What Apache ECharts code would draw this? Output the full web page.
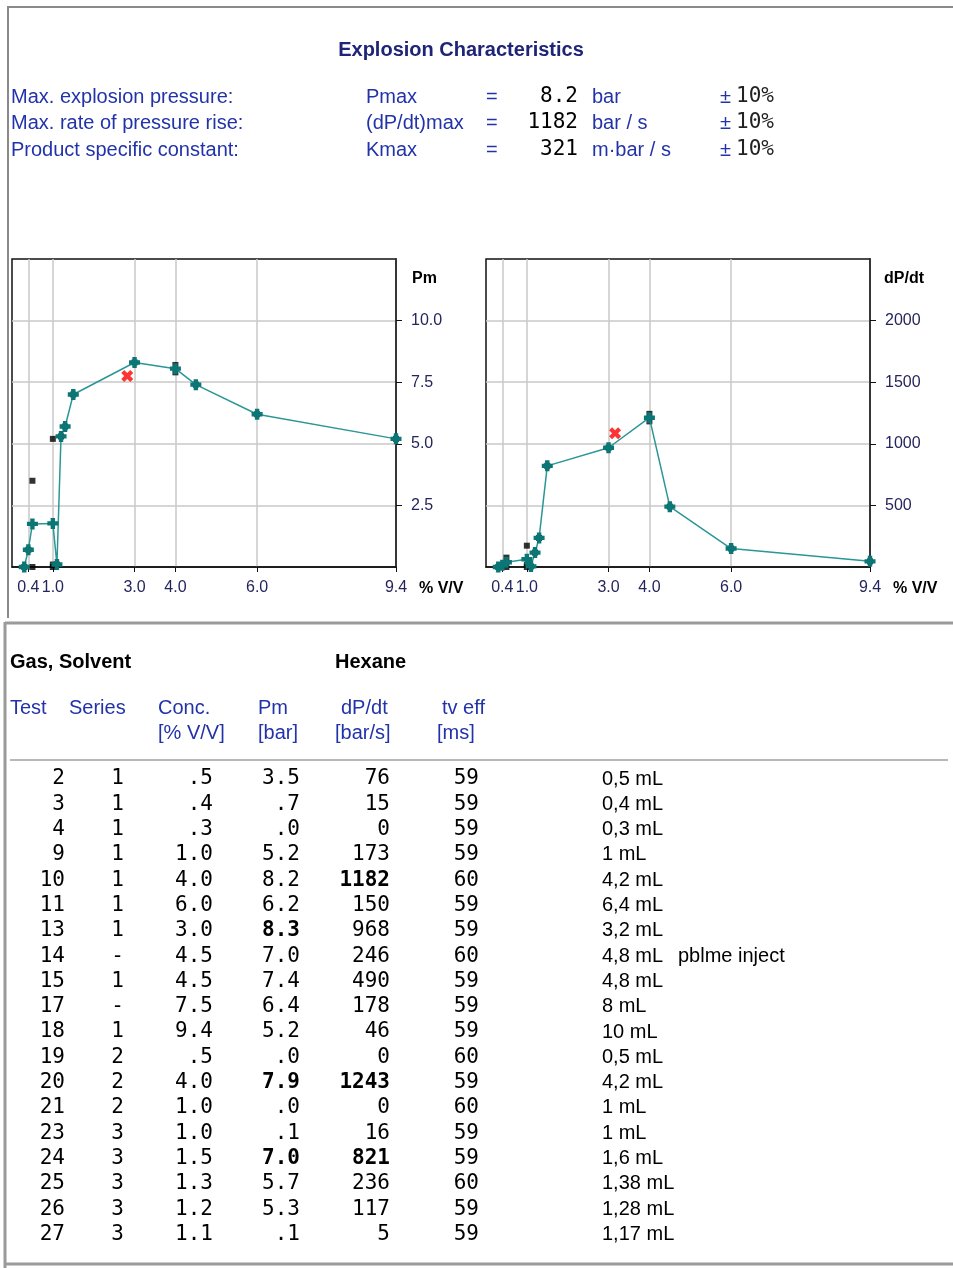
<!DOCTYPE html>
<html>
<head>
<meta charset="utf-8">
<title>Explosion Characteristics</title>
<script src="https://cdn.jsdelivr.net/npm/echarts@6/dist/echarts.min.js"></script>
<style>
	html, body { margin: 0; padding: 0; background: #fff; }
	#chart { width: 953px; height: 1268px; }
</style>
</head>
<body>
<div id="chart"></div>
<script>
// test table
const tests = [2, 3, 4, 9, 10, 11, 13, 14, 15, 17, 18, 19, 20, 21, 23, 24, 25, 26, 27];
const seriesNo = ["1", "1", "1", "1", "1", "1", "1", "-", "1", "-", "1", "2", "2", "2", "3", "3", "3", "3", "3"];
const conc = [0.5, 0.4, 0.3, 1.0, 4.0, 6.0, 3.0, 4.5, 4.5, 7.5, 9.4, 0.5, 4.0, 1.0, 1.0, 1.5, 1.3, 1.2, 1.1];
const pm = [3.5, 0.7, 0.0, 5.2, 8.2, 6.2, 8.3, 7.0, 7.4, 6.4, 5.2, 0.0, 7.9, 0.0, 0.1, 7.0, 5.7, 5.3, 0.1];
const dpdt = [76, 15, 0, 173, 1182, 150, 968, 246, 490, 178, 46, 0, 1243, 0, 16, 821, 236, 117, 5];
const tvEff = [59, 59, 59, 59, 60, 59, 59, 60, 59, 59, 59, 60, 59, 60, 59, 59, 60, 59, 59];
const volume = ["0,5 mL", "0,4 mL", "0,3 mL", "1 mL", "4,2 mL", "6,4 mL", "3,2 mL", "4,8 mL", "4,8 mL", "8 mL",
	"10 mL", "0,5 mL", "4,2 mL", "1 mL", "1 mL", "1,6 mL", "1,38 mL", "1,28 mL", "1,17 mL"];
const remark = ["", "", "", "", "", "", "", "pblme inject", "", "", "", "", "", "", "", "", "", "", ""];
const boldPm = [13, 20, 24];
const boldDp = [10, 20, 24];

// mean curve per concentration (teal crosses)
const meanConc = [0.3, 0.4, 0.5, 1.0, 1.1, 1.2, 1.3, 1.5, 3.0, 4.0, 4.5, 6.0, 9.4];
const meanPm = [0, 0.7, 1.75, 1.77, 0.1, 5.3, 5.7, 7.0, 8.3, 8.05, 7.4, 6.2, 5.2];
const meanDp = [0, 15, 38, 63, 5, 117, 236, 821, 968, 1212, 490, 150, 46];

// red marker
const optPm = [2.82, 7.75];
const optDp = [3.16, 1085];

const xTicks = [0.4, 1.0, 3.0, 4.0, 6.0, 9.4];
const pmTicks = [2.5, 5.0, 7.5, 10.0];
const dpTicks = [500, 1000, 1500, 2000];

const SANS = '"Liberation Sans", Arial, sans-serif';
const MONO = '"DejaVu Sans Mono", monospace';
const BLUE = "#2233aa";
const NAVY = "#1e2478";
const TEAL = "#2a9696";

const plusPath = "path://M3,0h4v3h3v4h-3v3h-4v-3h-3v-4h3z";
const crossPath = "path://M0,2.5L2.5,0L5,2.5L7.5,0L10,2.5L7.5,5L10,7.5L7.5,10L5,7.5L2.5,10L0,7.5L2.5,5Z";

let myChart = echarts.init(document.getElementById("chart"), null, { renderer: "canvas" });

function text(x, y, str, opt = {}) {
	return {
		type: "text",
		x: x,
		y: y,
		silent: true,
		style: {
			text: str,
			fill: opt.color || "#000",
			font: (opt.bold ? "bold " : "") + (opt.size || 20) + "px " + (opt.mono ? MONO : SANS),
			align: opt.align || "left",
			verticalAlign: "middle",
		},
	};
}

function line(x1, y1, x2, y2, width, color) {
	return {
		type: "line",
		silent: true,
		shape: { x1, y1, x2, y2 },
		style: { stroke: color, lineWidth: width },
	};
}

function fmt1(v) {
	return v.toFixed(1).replace(/^0\./, ".");
}

function buildGraphic() {
	const g = [];
	// frame
	g.push(line(8, 7, 953, 7, 2, "#8a8a8a"));
	g.push(line(8, 6, 8, 618, 2, "#8a8a8a"));
	g.push(line(5, 623, 953, 623, 3, "#9a9a9a"));
	g.push(line(5, 622, 5, 1268, 3, "#9a9a9a"));
	g.push(line(10, 760, 948, 760, 1.5, "#a0a0a0"));
	g.push(line(5, 1264, 953, 1264, 3, "#9a9a9a"));

	// header block
	g.push(text(461, 50, "Explosion Characteristics", { bold: true, color: NAVY, align: "center" }));
	const labels = ["Max. explosion pressure:", "Max. rate of pressure rise:", "Product specific constant:"];
	const symbols = ["Pmax", "(dP/dt)max", "Kmax"];
	const values = ["8.2", "1182", "321"];
	const units = ["bar", "bar / s", "m\u00b7bar / s"];
	const rowsY = [97, 123, 150];
	rowsY.forEach((y, i) => {
		g.push(text(11, y, labels[i], { color: BLUE }));
		g.push(text(366, y, symbols[i], { color: BLUE }));
		g.push(text(486, y, "=", { color: BLUE }));
		g.push(text(578, y, values[i], { mono: true, align: "right", size: 21 }));
		g.push(text(592, y, units[i], { color: BLUE }));
		g.push(text(720, y, "\u00b1", { color: BLUE }));
		g.push(text(736, y, "10%", { mono: true, size: 21, color: "#222" }));
	});

	// axis names
	g.push(text(412, 279, "Pm", { bold: true, size: 16 }));
	g.push(text(884, 279, "dP/dt", { bold: true, size: 16 }));
	g.push(text(419, 589, "% V/V", { bold: true, size: 16 }));
	g.push(text(893, 589, "% V/V", { bold: true, size: 16 }));

	// table header
	g.push(text(10, 662, "Gas, Solvent", { bold: true }));
	g.push(text(335, 662, "Hexane", { bold: true }));
	const head1 = [["Test", 10], ["Series", 69], ["Conc.", 158], ["Pm", 258], ["dP/dt", 341], ["tv eff", 442]];
	const head2 = [["[% V/V]", 158], ["[bar]", 258], ["[bar/s]", 335], ["[ms]", 437]];
	head1.forEach(h => g.push(text(h[1], 708, h[0], { color: BLUE })));
	head2.forEach(h => g.push(text(h[1], 733, h[0], { color: BLUE })));

	// table rows
	tests.forEach((t, i) => {
		const y = 779 + i * 25.3;
		g.push(text(65, y, String(t), { mono: true, align: "right", size: 21 }));
		g.push(text(124, y, seriesNo[i], { mono: true, align: "right", size: 21 }));
		g.push(text(213, y, fmt1(conc[i]), { mono: true, align: "right", size: 21 }));
		g.push(text(300, y, fmt1(pm[i]), { mono: true, align: "right", size: 21, bold: boldPm.includes(t) }));
		g.push(text(390, y, String(dpdt[i]), { mono: true, align: "right", size: 21, bold: boldDp.includes(t) }));
		g.push(text(479, y, String(tvEff[i]), { mono: true, align: "right", size: 21 }));
		g.push(text(602, y, volume[i]));
		if (remark[i]) g.push(text(678, y, remark[i]));
	});
	return g;
}

function xAxis(gridIndex) {
	return {
		type: "value",
		gridIndex: gridIndex,
		min: 0,
		max: 9.4,
		axisLine: { show: true, onZero: false, lineStyle: { color: "#111", width: 1.5 } },
		axisTick: { show: true, customValues: xTicks, length: 5, lineStyle: { color: "#111" } },
		axisLabel: {
			customValues: xTicks,
			formatter: v => v.toFixed(1),
			margin: 13,
			fontSize: 16,
			fontFamily: SANS,
			color: "#25255e",
			hideOverlap: false,
			showMinLabel: true,
			showMaxLabel: true,
		},
		splitLine: { show: true, lineStyle: { color: "#c8c8c8", width: 1.5 } },
	};
}

function yAxis(gridIndex, max, interval, ticks, fmt) {
	return {
		type: "value",
		gridIndex: gridIndex,
		position: "right",
		min: 0,
		max: max,
		interval: interval,
		axisLine: { show: true, onZero: false, lineStyle: { color: "#111", width: 1.5 } },
		axisTick: { show: true, customValues: ticks, length: 6, lineStyle: { color: "#111" } },
		axisLabel: {
			customValues: ticks,
			formatter: fmt,
			margin: 15,
			fontSize: 16,
			fontFamily: SANS,
			color: "#25255e",
		},
		splitLine: { show: true, lineStyle: { color: "#c8c8c8", width: 1.5 } },
	};
}

function testPoints(values) {
	const out = [];
	tests.forEach((t, i) => {
		if (seriesNo[i] === "-") return;
		out.push([conc[i], values[i]]);
	});
	return out;
}

function getOptions() {
	const grid = (left) => ({
		left: left,
		top: 259,
		width: 384,
		height: 308,
		show: true,
		borderColor: "#111",
		borderWidth: 1.5,
		backgroundColor: "#fff",
		containLabel: false,
		outerBoundsMode: "none",
	});
	const seriesFor = (idx, values, means, opt) => [
		{
			type: "scatter",
			xAxisIndex: idx,
			yAxisIndex: idx,
			data: testPoints(values),
			symbol: "rect",
			symbolSize: 6,
			itemStyle: { color: "#000" },
			z: 2,
		},
		{
			type: "line",
			xAxisIndex: idx,
			yAxisIndex: idx,
			data: meanConc.map((c, i) => [c, means[i]]),
			symbol: plusPath,
			symbolSize: 11,
			showAllSymbol: true,
			lineStyle: { color: TEAL, width: 1.5 },
			itemStyle: { color: "#0a7676" },
			z: 3,
		},
		{
			type: "scatter",
			xAxisIndex: idx,
			yAxisIndex: idx,
			data: [opt],
			symbol: crossPath,
			symbolSize: 12,
			itemStyle: { color: "#ff0000" },
			z: 4,
		},
	];
	return {
		animation: false,
		backgroundColor: "#fff",
		grid: [grid(12), grid(486)],
		xAxis: [xAxis(0), xAxis(1)],
		yAxis: [
			yAxis(0, 12.5, 2.5, pmTicks, v => v.toFixed(1)),
			yAxis(1, 2500, 500, dpTicks, v => String(v)),
		],
		series: [].concat(seriesFor(0, pm, meanPm, optPm), seriesFor(1, dpdt, meanDp, optDp)),
		graphic: buildGraphic(),
	};
}

myChart.setOption(getOptions());
</script>
</body>
</html>
